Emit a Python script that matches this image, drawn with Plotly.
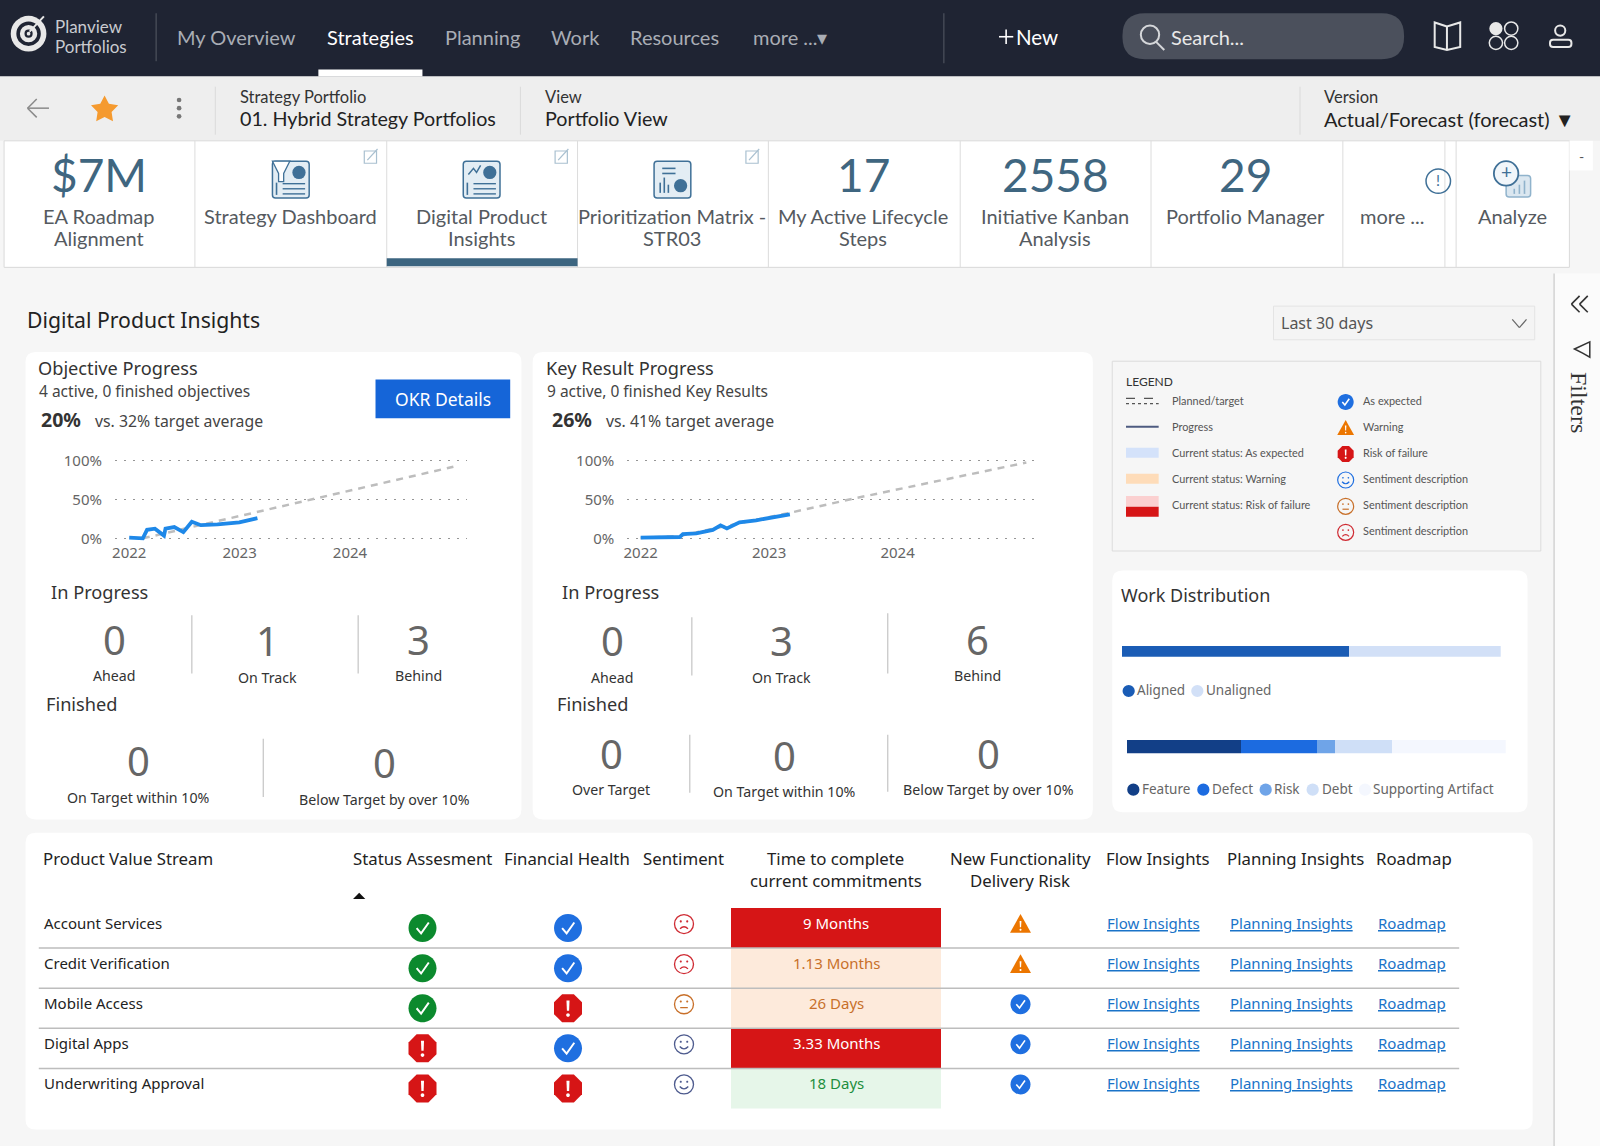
import math
import plotly.graph_objects as go

# ---------- data ----------
OBJ_DATES = ["2022-01-01","2022-02-15","2022-03-01","2022-03-27","2022-04-26","2022-05-01","2022-05-30","2022-06-29","2022-07-27","2022-08-26","2022-10-20","2022-12-31","2023-03-01"]
OBJ_PROGRESS = [0.01,0.0,0.11,0.125,0.035,0.125,0.145,0.08,0.215,0.17,0.18,0.207,0.26]
OBJ_TARGET_DATES = ["2022-02-15","2023-08-20","2024-12-08"]
OBJ_TARGET = [0.0,0.5,0.925]

KR_DATES = ["2022-01-01","2022-04-22","2022-05-01","2022-06-08","2022-07-25","2022-08-16","2022-09-03","2022-10-09","2022-11-25","2023-01-11","2023-03-01"]
KR_PROGRESS = [0.009,0.017,0.056,0.065,0.108,0.168,0.129,0.207,0.233,0.272,0.31]
KR_TARGET_DATES = ["2022-01-01","2022-04-22","2022-08-01","2023-03-01","2023-09-05","2025-01-01"]
KR_TARGET = [0.005,0.03,0.13,0.33,0.52,0.98]

YEAR_TICKS = ["2022-01-01","2023-01-01","2024-01-01"]
YEAR_LABELS = ["2022","2023","2024"]
PCT_TICKS = [0,0.5,1]
PCT_LABELS = ["0%","50%","100%"]

ALIGN_NAMES = ["Aligned","Unaligned"]
ALIGN_VALUES = [60,40]
WORK_NAMES = ["Feature","Defect","Risk","Debt","Supporting Artifact"]
WORK_VALUES = [30,20,5,15,30]

ROWS = ["Account Services","Credit Verification","Mobile Access","Digital Apps","Underwriting Approval"]
STATUS = ["okgreen","okgreen","okgreen","risk","risk"]
FINANCIAL = ["ok","ok","risk","ok","risk"]
SENTIMENT = ["sad","sad","neutral","happy","happy"]
TIME_LABELS = ["9 Months","1.13 Months","26 Days","3.33 Months","18 Days"]
TIME_STATE = ["risk","warn","warn","risk","good"]
DELIVERY = ["warn","warn","ok","ok","ok"]

# ---------- layout helpers (displayed px -> paper) ----------
W, H = 1600, 1146
S = W / 1568
def X(x): return x * S / W
def Y(y): return 1 - y * S / H
UI = "Lato"
BODY = "Noto Sans"
shapes, annos = [], []

def T(x, y, txt, size=16, color="#444", font=BODY, anchor="left", ang=0):
    annos.append(dict(x=X(x), y=Y(y - 0.5), xref="paper", yref="paper", text=txt, showarrow=False,
                      xanchor=anchor, yanchor="middle", textangle=ang, borderpad=0, borderwidth=0,
                      font=dict(size=size, color=color, family=font)))

def num(v): return f"{v:.5f}"
def path(cmds):
    out = []
    for c in cmds:
        k = c[0]; p = c[1:]
        vals = [num(X(v)) if i % 2 == 0 else num(Y(v)) for i, v in enumerate(p)]
        out.append(k + " " + " ".join(vals) if vals else "Z")
    return " ".join(out)

def add_path(cmds, fill="rgba(0,0,0,0)", color="rgba(0,0,0,0)", lw=0, layer="below"):
    shapes.append(dict(type="path", xref="paper", yref="paper", path=path(cmds), fillcolor=fill,
                       line=dict(color=color, width=lw), layer=layer))

def rect(x0, y0, x1, y1, fill, color="rgba(0,0,0,0)", lw=0, r=0, layer="below"):
    if r:
        add_path([("M", x0+r, y0), ("L", x1-r, y0), ("Q", x1, y0, x1, y0+r), ("L", x1, y1-r), ("Q", x1, y1, x1-r, y1),
                  ("L", x0+r, y1), ("Q", x0, y1, x0, y1-r), ("L", x0, y0+r), ("Q", x0, y0, x0+r, y0), ("Z",)],
                 fill, color, lw, layer)
    else:
        shapes.append(dict(type="rect", xref="paper", yref="paper", x0=X(x0), x1=X(x1), y0=Y(y0), y1=Y(y1),
                           fillcolor=fill, line=dict(color=color, width=lw), layer=layer))

def seg(x0, y0, x1, y1, color="#ccc", lw=1, dash="solid", layer="below"):
    shapes.append(dict(type="line", xref="paper", yref="paper", x0=X(x0), x1=X(x1), y0=Y(y0), y1=Y(y1),
                       line=dict(color=color, width=lw, dash=dash), layer=layer))

def circ(cx, cy, r, fill="rgba(0,0,0,0)", color="rgba(0,0,0,0)", lw=0, layer="below"):
    shapes.append(dict(type="circle", xref="paper", yref="paper", x0=X(cx-r), x1=X(cx+r), y0=Y(cy+r), y1=Y(cy-r),
                       fillcolor=fill, line=dict(color=color, width=lw), layer=layer))

# icons as pixel-sized paths anchored on an axis or on the paper
def pt(x, y): return f"{x:.2f},{-y:.2f}"
def p_circle(r, cx=0, cy=0):
    k = 0.5523 * r
    return (f"M{pt(cx-r,cy)} C{pt(cx-r,cy-k)} {pt(cx-k,cy-r)} {pt(cx,cy-r)} C{pt(cx+k,cy-r)} {pt(cx+r,cy-k)} {pt(cx+r,cy)} "
            f"C{pt(cx+r,cy+k)} {pt(cx+k,cy+r)} {pt(cx,cy+r)} C{pt(cx-k,cy+r)} {pt(cx-r,cy+k)} {pt(cx-r,cy)} Z")
def p_poly(pts): return "M" + " L".join(pt(a, b) for a, b in pts) + " Z"
GREEN, BLUE, RED, ORANGE = "#0c8a2e", "#1f6fe0", "#d61516", "#ec7600"
def icon_parts(kind, r):
    parts = []
    if kind in ("ok", "okgreen"):
        parts.append((p_circle(r), GREEN if kind == "okgreen" else BLUE, None, 0))
        parts.append((f"M{pt(-.42*r,0)} L{pt(-.1*r,.38*r)} L{pt(.45*r,-.4*r)}", None, "white", max(1.6, r*.14)))
    elif kind == "risk":
        a = r*.42
        parts.append((p_poly([(-a,-r),(a,-r),(r,-a),(r,a),(a,r),(-a,r),(-r,a),(-r,-a)]), RED, None, 0))
        parts.append((p_poly([(-.11*r,-.55*r),(.11*r,-.55*r),(.08*r,.18*r),(-.08*r,.18*r)]), "white", None, 0))
        parts.append((p_circle(.13*r, 0, .48*r), "white", None, 0))
    elif kind == "warn":
        parts.append((p_poly([(0,-r),(r*1.05,r*.88),(-r*1.05,r*.88)]), ORANGE, None, 0))
        parts.append((p_poly([(-.09*r,-.3*r),(.09*r,-.3*r),(.06*r,.32*r),(-.06*r,.32*r)]), "white", None, 0))
        parts.append((p_circle(.1*r, 0, .58*r), "white", None, 0))
    else:
        col = {"sad": "#cf2b33", "neutral": "#c8702a", "happy": "#4e5b8e", "happyblue": "#1f6fe0"}[kind]
        lw = max(1.2, r*.14)
        parts.append((p_circle(r), None, col, lw))
        parts.append((p_circle(.11*r, -.34*r, -.28*r), col, None, 0))
        parts.append((p_circle(.11*r, .34*r, -.28*r), col, None, 0))
        if kind == "sad":
            parts.append((f"M{pt(-.42*r,.5*r)} Q{pt(0,.08*r)} {pt(.42*r,.5*r)}", None, col, lw))
        elif kind == "neutral":
            parts.append((f"M{pt(-.4*r,.36*r)} L{pt(.4*r,.36*r)}", None, col, lw))
        else:
            parts.append((f"M{pt(-.45*r,.22*r)} Q{pt(0,.72*r)} {pt(.45*r,.22*r)}", None, col, lw))
    return parts
def icon(kind, r, xa, ya, xref="paper", yref="paper"):
    for d, fill, col, lw in icon_parts(kind, r):
        shapes.append(dict(type="path", xref=xref, yref=yref, xsizemode="pixel", ysizemode="pixel", xanchor=xa, yanchor=ya,
                           path=d, fillcolor=fill or "rgba(0,0,0,0)", line=dict(color=col or "rgba(0,0,0,0)", width=lw), layer="above"))
def icon_d(kind, r, x, y): icon(kind, r, X(x), Y(y))

# ---------- top navigation ----------
NAV = "#1f2433"
rect(0, 0, 1568, 75, NAV)
rect(312, 68, 414, 75, "#ffffff")
circ(28, 33, 17.5, "#e8e8e8"); circ(28, 33, 12, NAV); circ(28, 33, 8.5, "#e8e8e8"); circ(28, 33, 4, NAV); circ(28, 33, 1.8, "#e8e8e8")
seg(29, 31, 43, 16, "#e8e8e8", 2)
T(54, 26.5, "Planview", 17, "#c9cbd0", UI); T(54, 46, "Portfolios", 17, "#c9cbd0", UI)
seg(153, 13, 153, 60, "#555a66", 1)
for cx, t, col in [(232,"My Overview","#a9adb5"),(363,"Strategies","#ffffff"),(473,"Planning","#a9adb5"),(564,"Work","#a9adb5"),(661,"Resources","#a9adb5"),(775,"more ...▾","#a9adb5")]:
    T(cx, 37, t, 20, col, UI, "center")
seg(925, 13, 925, 62, "#555a66", 1)
seg(979, 36, 993, 36, "#ffffff", 1.6); seg(986, 29, 986, 43, "#ffffff", 1.6)
T(996, 37, "New", 20.5, "#ffffff", UI)
rect(1100, 13, 1376, 58, "#4b505c", r=22)
circ(1127, 34, 9, "rgba(0,0,0,0)", "#d5d7da", 2); seg(1133, 41, 1141, 49, "#d5d7da", 2)
T(1148, 37, "Search...", 20, "#e8e8e8", UI)
add_path([("M",1418,26),("L",1406,22),("L",1406,46),("L",1418,49),("L",1431,46),("L",1431,22),("Z",)], "rgba(0,0,0,0)", "#e8e8e8", 2)
seg(1418, 26, 1418, 49, "#e8e8e8", 2)
circ(1466, 28, 6.5, "#e8e8e8"); circ(1481, 28, 6.5, color="#e8e8e8", lw=1.5); circ(1466, 42, 6.5, color="#e8e8e8", lw=1.5); circ(1481, 42, 6.5, color="#e8e8e8", lw=1.5)
circ(1529, 30, 5, color="#e8e8e8", lw=2)
rect(1519, 39, 1540, 46, "rgba(0,0,0,0)", "#e8e8e8", 2, r=3)

# ---------- toolbar ----------
rect(0, 75, 1568, 138, "#eeeeee")
seg(27, 106, 48, 106, "#8a8a8a", 1.5); seg(27, 106, 36, 97, "#8a8a8a", 1.5); seg(27, 106, 36, 115, "#8a8a8a", 1.5)
star = []
for i in range(10):
    rad = 14 if i % 2 == 0 else 7.2
    a = -math.pi/2 + i*math.pi/5
    star.append(("M" if i == 0 else "L", 102.5+rad*math.cos(a), 107.5+rad*math.sin(a)))
add_path(star + [("Z",)], "#f59a2f")
for yy in (98, 106, 114): circ(175.5, yy, 2.3, "#777")
for xx in (211, 510, 1274): seg(xx, 85, xx, 132, "#dadada", 1)
T(235, 96, "Strategy Portfolio", 16.5, "#333", UI); T(235, 117, "01. Hybrid Strategy Portfolios", 19.7, "#222", UI)
T(534, 96, "View", 16.5, "#333", UI); T(534, 117, "Portfolio View", 19.7, "#222", UI)
T(1298, 96, "Version", 16.5, "#333", UI); T(1298, 117, "Actual/Forecast (forecast) ▼", 20, "#222", UI)

# ---------- tab strip ----------
TAB_EDGES = [4,191,379,566,753,941,1128,1316,1416,1427,1538]
rect(4, 138, 1538, 262, "#ffffff", "#d9d9d9", 1)
for xx in TAB_EDGES[1:-1]: seg(xx, 138, xx, 262, "#dcdcdc", 1)
rect(379, 253, 566, 261, "#3c6580")
rect(1538, 138, 1561, 167, "#ffffff"); T(1549.5, 154, "-", 14, "#555", UI, "center")
TEAL, GREY = "#3f6680", "#555a5f"
for cx, big in [(97,"$7M"),(846,"17"),(1034,"2558"),(1221,"29")]:
    T(cx, 172, big, 46, TEAL, UI, "center")
for cx, lines in [(97,["EA Roadmap","Alignment"]),(846,["My Active Lifecycle","Steps"]),(1034,["Initiative Kanban","Analysis"]),(1221,["Portfolio Manager"]),(1365,["more ..."]),(285,["Strategy Dashboard"]),(472,["Digital Product","Insights"]),(659,["Prioritization Matrix -","STR03"]),(1482,["Analyze"])]:
    for i, l in enumerate(lines):
        T(cx, 212 + i*21.5, l, 20, GREY, UI, "center")
ICON = "#3f7097"
def doc(cx, kind):
    rect(cx-18, 158, cx+18, 194, "#e3edf4", ICON, 1.5, r=3)
    if kind == "funnel":
        add_path([("M",cx-18,158),("L",cx-1,158),("L",cx-7,170),("L",cx-7,178),("L",cx-12,178),("L",cx-12,170),("Z",)], "#ffffff", ICON, 1.3)
    if kind == "trend":
        add_path([("M",cx-13,171),("L",cx-8,165),("L",cx-5,169),("L",cx-1,162)], "rgba(0,0,0,0)", ICON, 1.5)
    if kind in ("funnel", "trend"):
        circ(cx+8, 169, 6.5, ICON)
        for yy in (180, 185, 190): seg(cx-8, yy, cx+14, yy, ICON, 1.4)
        seg(cx-14, 179, cx-14, 191, ICON, 1.6)
    if kind == "bars":
        for yy in (165, 170): seg(cx-10, yy, cx+3, yy, ICON, 1.6)
        for i, hh in enumerate((10, 15, 8)): seg(cx-12+i*4, 189, cx-12+i*4, 189-hh, ICON, 1.6)
        circ(cx+8, 182, 6.5, ICON)
doc(285, "funnel"); doc(472, "trend"); doc(659, "bars")
for c in (363, 550, 737):
    rect(c-6, 148, c+6, 160, "rgba(0,0,0,0)", "#a9c0d0", 1.2); seg(c-3, 157, c+7, 146, "#a9c0d0", 1.2)
circ(1409.5, 177.5, 12, "rgba(0,0,0,0)", "#3f7097", 1.5); T(1409.5, 177, "!", 15, "#3f7097", UI, "center")
rect(1476, 172, 1500, 193, "#dbe7f0", "#90b3cc", 1.5, r=3)
for i, hh in enumerate((5, 9, 13)): seg(1484+i*5, 190, 1484+i*5, 190-hh, "#90b3cc", 1.6)
circ(1476, 170, 12, "#f1f6fa", "#3f7097", 1.8); T(1476, 169, "+", 19, "#3f7097", UI, "center")

# ---------- page title ----------
T(26, 314, "Digital Product Insights", 21.2, "#222", BODY)
rect(1248, 300, 1504, 333, "#f4f4f4", "#e4e4e4", 1)
T(1255, 317, "Last 30 days", 16, "#555", BODY)
seg(1482, 313, 1489, 321, "#666", 1.2); seg(1489, 321, 1496, 313, "#666", 1.2)

# sidebar
rect(1523, 268, 1568, 1123, "#fbfbfb")
seg(1523, 268, 1523, 1123, "#c9c9c9", 1.2)
for dx_ in (0, 8):
    seg(1548+dx_, 290, 1540+dx_, 298, "#333", 1.6); seg(1540+dx_, 298, 1548+dx_, 306, "#333", 1.6)
add_path([("M",1543,342),("L",1558,335),("L",1558,350),("L",1551,346),("Z",)], "rgba(0,0,0,0)", "#333", 1.5)
T(1548, 395, "Filters", 24, "#333", "Liberation Serif", "center", 90)

# ---------- cards ----------
for x0, y0, x1, y1 in [(25,345,511,803),(522,345,1071,803),(1090,559,1497,796),(25,816,1502,1107)]:
    rect(x0, y0, x1, y1, "#ffffff", r=10)
rect(1090, 354, 1510, 540, "#f6f6f6", "#dcdcdc", 1)

# Objective card
DK, MID, BIG = "#333", "#444", "#666"
T(37, 361, "Objective Progress", 18.2, DK)
T(38, 384, "4 active, 0 finished objectives", 15.5, MID)
T(40, 412, "<b>20%</b>", 19.5, DK); T(93, 413, "vs. 32% target average", 15.8, MID)
rect(368, 372, 500, 410, "#1565d8")
T(434, 392, "OKR Details", 17.5, "#ffffff", BODY, "center")
T(50, 581, "In Progress", 18.2, DK); T(45, 690, "Finished", 18.2, DK)
def stat(cx, yn, n, yl, l):
    T(cx, yn, n, 40, BIG, BODY, "center"); T(cx, yl, l, 14.2, DK, BODY, "center")
stat(112, 627, "0", 662, "Ahead"); stat(262, 628, "1", 664, "On Track"); stat(410, 627, "3", 662, "Behind")
stat(136, 746, "0", 782, "On Target within 10%"); stat(377, 748, "0", 784, "Below Target by over 10%")
for xx, a, b in [(188,603,660),(351,603,660),(258,724,781)]: seg(xx, a, xx, b, "#c4c4c4", 1.2)

# Key result card
T(535, 361, "Key Result Progress", 18.2, DK)
T(536, 384, "9 active, 0 finished Key Results", 15.5, MID)
T(541, 412, "<b>26%</b>", 19.5, DK); T(594, 413, "vs. 41% target average", 15.8, MID)
T(551, 581, "In Progress", 18.2, DK); T(546, 690, "Finished", 18.2, DK)
stat(600, 628, "0", 664, "Ahead"); stat(766, 628, "3", 664, "On Track"); stat(958, 627, "6", 662, "Behind")
stat(599, 739, "0", 774, "Over Target"); stat(769, 741, "0", 776, "On Target within 10%"); stat(969, 739, "0", 774, "Below Target by over 10%")
for xx, a, b in [(678,605,662),(870,601,660),(676,720,777),(870,720,776)]: seg(xx, a, xx, b, "#c4c4c4", 1.2)

# Legend panel (positions measured in source px)
lx = lambda z: (1100 + z/3) / S
ly = lambda z: (360 + z/3) / S
LEG = "#555"
T(lx(77), ly(66), "LEGEND", 12, "#333", UI)
seg(lx(78), ly(115), lx(176), ly(115), "#555", 1.2, "dash")
seg(lx(78), ly(131), lx(176), ly(131), "#555", 1.2, "dot")
seg(lx(78), ly(200), lx(176), ly(200), "#4e5b80", 2)
rect(lx(78), ly(263), lx(176), ly(293), "#d4e2fa")
rect(lx(78), ly(341), lx(176), ly(371), "#fedcb9")
rect(lx(78), ly(408), lx(176), ly(440), "#fbd0d0")
rect(lx(78), ly(440), lx(176), ly(470), "#d61516")
for z, t in [(123,"Planned/target"),(201,"Progress"),(279,"Current status: As expected"),(357,"Current status: Warning"),(436,"Current status: Risk of failure")]:
    T(lx(215), ly(z), t, 10.9, LEG, UI)
for z, k, t in [(123,"ok","As expected"),(201,"warn","Warning"),(279,"risk","Risk of failure"),(357,"happyblue","Sentiment description"),(436,"neutral","Sentiment description"),(514,"sad","Sentiment description")]:
    icon_d(k, 8, lx(737), ly(z + 3))
    T(lx(788), ly(z), t, 10.9, LEG, UI)

# Work distribution
T(1099, 584, "Work Distribution", 18, "#333")
wx = lambda z: (1110 + z/3) / S
wy = lambda z: (620 + z/3) / S
ALIGN_COLORS = ["#1a5cb5", "#d2e0f7"]
WORK_COLORS = ["#123f87", "#1c6be0", "#6fa4e8", "#cfdff7", "#f4f7fe"]
for dotx, textx, name, c in zip((56,262), (82,288), ALIGN_NAMES, ALIGN_COLORS):
    circ(wx(dotx), wy(213), 6, c); T(wx(textx), wy(213), name, 13.5, "#666")
for dotx, textx, name, c in zip((70,280,467,608,765), (96,305,493,635,790), WORK_NAMES, WORK_COLORS):
    circ(wx(dotx), wy(509), 6, c); T(wx(textx), wy(509), name, 13.5, "#666")

# Table headers
for xx, yy, t, a in [(42,842,"Product Value Stream","left"),(414,842,"Status Assesment","center"),(556,842,"Financial Health","center"),(670,842,"Sentiment","center"),
                     (819,842,"Time to complete","center"),(819,863,"current commitments","center"),(1000,842,"New Functionality","center"),(1000,863,"Delivery Risk","center"),
                     (1135,842,"Flow Insights","center"),(1270,842,"Planning Insights","center"),(1386,842,"Roadmap","center")]:
    T(xx, yy, t, 16.8, "#222", BODY, a)
add_path([("M",346,881),("L",358,881),("L",352,875),("Z",)], "#111")

# ---------- table on its own axes (x in page px, y = row index) ----------
COL_STATUS, COL_FIN, COL_SENT, COL_TIME, COL_RISK = 422.5, 568, 684, 836, 1020.5
COL_FLOW, COL_PLAN, COL_ROAD = 1153.5, 1291, 1411.5
CELL_L, CELL_R = 730.6, 941
idx = list(range(len(ROWS)))
STATE_FILL = {"risk": "#d61516", "warn": "#fdeadb", "good": "#e6f6e9"}
STATE_TEXT = {"risk": "#ffffff", "warn": "#c8702a", "good": "#1e8e3e"}
def row_text(x, i, txt, size=15, color="#222", anchor="center"):
    annos.append(dict(x=x, y=i, xref="x3", yref="y3", text=txt, showarrow=False, xanchor=anchor, yanchor="middle", yshift=5,
                      font=dict(size=size, color=color, family=BODY), borderpad=0))
for i in idx:
    row_text(43, i, ROWS[i], 15, "#222", "left")
    icon(STATUS[i], 14, COL_STATUS, i, "x3", "y3")
    icon(FINANCIAL[i], 14, COL_FIN, i, "x3", "y3")
    icon(SENTIMENT[i], 9.5, COL_SENT, i - 0.1, "x3", "y3")
    icon(DELIVERY[i], 10, COL_RISK, i - 0.1, "x3", "y3")
    row_text(COL_TIME, i, TIME_LABELS[i], 15, STATE_TEXT[TIME_STATE[i]])
    row_text(COL_FLOW, i, "<u>Flow Insights</u>", 15, "#1a73c8")
    row_text(COL_PLAN, i, "<u>Planning Insights</u>", 15, "#1a73c8")
    row_text(COL_ROAD, i, "<u>Roadmap</u>", 15, "#1a73c8")
for i in idx[:-1]:
    shapes.append(dict(type="line", xref="paper", yref="y3", x0=38/1568, x1=1430/1568, y0=i+.5, y1=i+.5,
                       line=dict(color="#bdbdbd", width=1.5), layer="above"))

# ---------- traces ----------
fig = go.Figure()
def spark(x, y, xa, ya, color, width, dash="solid"):
    fig.add_trace(go.Scatter(x=x, y=y, xaxis=xa, yaxis=ya, mode="lines", line=dict(color=color, width=width, dash=dash), hoverinfo="skip", showlegend=False))
spark(OBJ_TARGET_DATES, OBJ_TARGET, "x", "y", "#bdbdbd", 2.5, "7px,6px")
spark(OBJ_DATES, OBJ_PROGRESS, "x", "y", "#1e88e8", 3.8)
spark(KR_TARGET_DATES, KR_TARGET, "x2", "y2", "#bdbdbd", 2.5, "7px,6px")
spark(KR_DATES, KR_PROGRESS, "x2", "y2", "#1e88e8", 3.8)

fig.add_trace(go.Bar(y=idx, x=[CELL_R-CELL_L]*len(idx), base=[CELL_L]*len(idx), width=1, orientation="h", xaxis="x3", yaxis="y3",
                     marker=dict(color=[STATE_FILL[s] for s in TIME_STATE], line=dict(width=0)), hoverinfo="skip", showlegend=False))
for name, v, c in zip(ALIGN_NAMES, ALIGN_VALUES, ALIGN_COLORS):
    fig.add_trace(go.Bar(y=[0], x=[v], name=name, width=1, orientation="h", xaxis="x4", yaxis="y4", marker=dict(color=c, line=dict(width=0)), showlegend=False))
for name, v, c in zip(WORK_NAMES, WORK_VALUES, WORK_COLORS):
    fig.add_trace(go.Bar(y=[0], x=[v], name=name, width=1, orientation="h", xaxis="x5", yaxis="y5", marker=dict(color=c, line=dict(width=0)), showlegend=False))

def dx(a, b): return [a/W, b/W]
def dy(a, b): return [1-b/H, 1-a/H]
HIDE = dict(visible=False, showgrid=False, zeroline=False, fixedrange=True, automargin=False)
def xdate(dom, rng, anchor):
    return dict(domain=dom, range=rng, type="date", anchor=anchor, tickvals=YEAR_TICKS, ticktext=YEAR_LABELS, showgrid=False, zeroline=False, automargin=False,
                showline=False, ticks="", tickfont=dict(size=15, color="#666", family=BODY), fixedrange=True)
def ypct(dom, anchor):
    return dict(domain=dom, range=[-0.05,1.05], anchor=anchor, tickvals=PCT_TICKS, ticktext=PCT_LABELS, showgrid=True, griddash="1.5px,7.5px", gridcolor="#969696", gridwidth=1, automargin=False,
                zeroline=False, showline=False, ticks="outside", ticklen=9, tickcolor="rgba(0,0,0,0)", tickfont=dict(size=15, color="#666", family=BODY), fixedrange=True)

fig.update_layout(
    width=W, height=H, margin=dict(l=0, r=0, t=0, b=0, pad=0, autoexpand=False), autosize=False,
    paper_bgcolor="#f6f6f6", plot_bgcolor="rgba(0,0,0,0)", barmode="stack", bargap=0, showlegend=False,
    xaxis=xdate(dx(115, 467), ["2021-11-15","2025-01-22"], "y"),
    yaxis=ypct(dy(457.1, 542.2), "x"),
    xaxis2=xdate(dx(627.3, 1038.3), ["2021-11-24","2025-02-04"], "y2"),
    yaxis2=ypct(dy(457.1, 542.2), "x2"),
    xaxis3=dict(domain=[0,1], range=[0,W], anchor="y3", **HIDE),
    yaxis3=dict(domain=dy(908, 1108.5), range=[4.5,-0.5], anchor="x3", **HIDE),
    xaxis4=dict(domain=dx(1121.7, 1500.7), range=[0,100], anchor="y4", **HIDE),
    yaxis4=dict(domain=dy(645.7, 656.7), range=[-0.5,0.5], anchor="x4", **HIDE),
    xaxis5=dict(domain=dx(1126.7, 1505.7), range=[0,100], anchor="y5", **HIDE),
    yaxis5=dict(domain=dy(739.7, 753.3), range=[-0.5,0.5], anchor="x5", **HIDE),
    shapes=shapes, annotations=annos, hovermode=False,
)
fig.write_html("out.html", config=dict(displayModeBar=False),
               post_script="document.body.style.margin='0';document.body.style.overflow='hidden';")
